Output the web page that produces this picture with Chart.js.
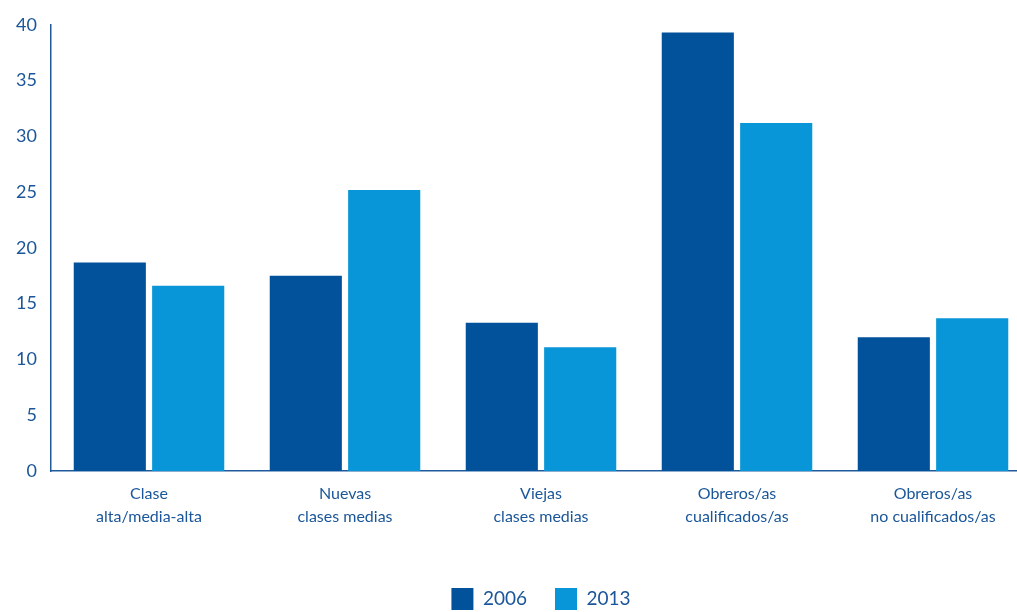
<!DOCTYPE html>
<html>
<head>
<meta charset="utf-8">
<script src="https://cdn.jsdelivr.net/npm/chart.js@4"></script>
<style>
  html, body { margin: 0; padding: 0; background: #fff; overflow: hidden; }
  #wrap { width: 1031px; height: 620px; }
</style>
</head>
<body>
<div id="wrap"><canvas id="chart"></canvas></div>
<script>
const categories = [
    ['Clase', 'alta/media-alta'],
    ['Nuevas', 'clases medias'],
    ['Viejas', 'clases medias'],
    ['Obreros/as', 'cualificados/as'],
    ['Obreros/as', 'no cualificados/as']
];
const values2006 = [18.7, 17.5, 13.3, 39.3, 12.0];
const values2013 = [16.6, 25.2, 11.1, 31.2, 13.7];
const seriesLabels = ['2006', '2013'];

const darkBlue = '#02529b';
const lightBlue = '#0896d8';
const textBlue = '#1a5699';
const axisBlue = '#1f5a9c';

const ctx = document.getElementById('chart').getContext('2d');
new Chart(ctx, {
    type: 'bar',
    data: {
        labels: categories,
        datasets: [
            { label: seriesLabels[0], data: values2006, backgroundColor: darkBlue },
            { label: seriesLabels[1], data: values2013, backgroundColor: lightBlue }
        ]
    },
    options: {
        responsive: true,
        maintainAspectRatio: false,
        animation: false,
        datasets: {
            bar: { categoryPercentage: 0.8, barPercentage: 0.92 }
        },
        layout: { padding: { top: 19, left: 0, right: 0, bottom: 0 } },
        plugins: {
            tooltip: { enabled: false },
            legend: {
                position: 'bottom',
                fullSize: false,
                labels: {
                    boxWidth: 22,
                    boxHeight: 22,
                    padding: 28,
                    color: textBlue,
                    font: { family: 'Lato', size: 19 }
                }
            }
        },
        scales: {
            x: {
                grid: { display: false, drawTicks: false },
                border: { color: axisBlue, width: 1.5 },
                ticks: {
                    color: textBlue,
                    padding: 12,
                    font: { family: 'Lato', size: 16, lineHeight: 1.4 }
                },
                afterFit: scale => { scale.height = 89; }
            },
            y: {
                min: 0,
                max: 40,
                grid: { display: false, drawTicks: false },
                border: { color: axisBlue, width: 1.5 },
                ticks: {
                    stepSize: 5,
                    color: textBlue,
                    padding: 14,
                    font: { family: 'Lato', size: 18 }
                },
                afterFit: scale => { scale.width = 51; }
            }
        }
    }
});
</script>
</body>
</html>
